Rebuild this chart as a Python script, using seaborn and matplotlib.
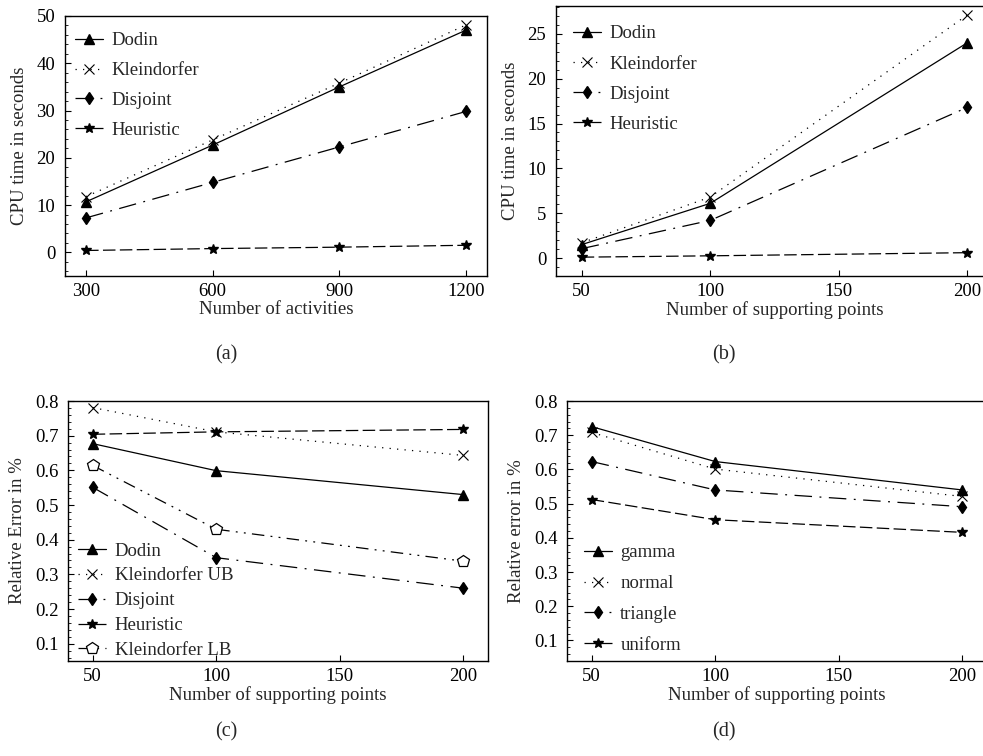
import matplotlib
matplotlib.use("Agg")
import matplotlib.pyplot as plt
import seaborn as sns
import numpy as np
from matplotlib.ticker import MultipleLocator

# ---------------- data ----------------
act_x = [300, 600, 900, 1200]
a_dodin = [10.7, 22.7, 35.0, 47.0]
a_klein = [11.8, 23.8, 35.8, 48.1]
a_disj = [7.3, 14.8, 22.3, 29.8]
a_heur = [0.4, 0.8, 1.1, 1.5]

sp_x = [50, 100, 200]
b_dodin = [1.5, 6.1, 24.0]
b_klein = [1.7, 6.8, 27.1]
b_disj = [1.05, 4.2, 16.8]
b_heur = [0.1, 0.25, 0.6]

c_dodin = [0.677, 0.599, 0.530]
c_klein_ub = [0.781, 0.711, 0.643]
c_disj = [0.551, 0.348, 0.260]
c_heur = [0.704, 0.711, 0.718]
c_klein_lb = [0.614, 0.430, 0.338]

d_gamma = [0.725, 0.623, 0.540]
d_normal = [0.708, 0.601, 0.521]
d_triangle = [0.623, 0.540, 0.491]
d_uniform = [0.512, 0.453, 0.416]

# ---------------- style ----------------
sns.set_style("ticks")
plt.rcParams["font.family"] = ["Liberation Serif", "DejaVu Serif"]
FS = 13.5
plt.rcParams.update({
    "font.size": FS,
    "xtick.direction": "in",
    "ytick.direction": "in",
    "xtick.major.size": 4,
    "ytick.major.size": 4,
    "ytick.minor.size": 2,
    "xtick.major.width": 0.8,
    "ytick.major.width": 0.8,
    "ytick.minor.width": 0.6,
    "axes.linewidth": 1.0,
    "axes.edgecolor": "black",
    "xtick.color": "black",
    "ytick.color": "black",
})

SOLID = "-"
DOTTED = (0, (1, 5))
DASHDOT = (0, (14, 6, 1.5, 6))
DASHED = (0, (10, 3.5))
DASHDOTDOT = (0, (10, 5, 1.5, 5, 1.5, 5))

LW = 0.9

def draw(ax, x, y, label, marker, ls, ms=7, mfc="black", mew=1.0):
    sns.lineplot(x=x, y=y, ax=ax, label=label, color="black", lw=LW,
                 linestyle=ls, marker=marker, markersize=ms,
                 markerfacecolor=mfc, markeredgecolor="black",
                 markeredgewidth=mew)

W, H = 983, 756
fig = plt.figure(figsize=(W / 100, H / 100), dpi=100)

def axes_px(left, top, right, bottom):
    return fig.add_axes([left / W, 1 - bottom / H, (right - left) / W, (bottom - top) / H])

axa = axes_px(65, 16, 487, 276)
axb = axes_px(556, 6, 993, 276)
axc = axes_px(68, 401, 488, 661)
axd = axes_px(567, 401, 987, 661)

# (a)
draw(axa, act_x, a_dodin, "Dodin", "^", SOLID, ms=7)
draw(axa, act_x, a_klein, "Kleindorfer", "x", DOTTED, ms=7, mew=0.8)
draw(axa, act_x, a_disj, "Disjoint", "d", DASHDOT, ms=6.5)
draw(axa, act_x, a_heur, "Heuristic", "*", DASHED, ms=7)
axa.set_xlim(250, 1250)
axa.set_ylim(-5, 50)
axa.set_xticks(act_x)
axa.set_yticks([0, 10, 20, 30, 40, 50])
axa.yaxis.set_minor_locator(MultipleLocator(2))
axa.set_xlabel("Number of activities")
axa.set_ylabel("CPU time in seconds")

# (b)
draw(axb, sp_x, b_dodin, "Dodin", "^", SOLID, ms=7)
draw(axb, sp_x, b_klein, "Kleindorfer", "x", DOTTED, ms=7, mew=0.8)
draw(axb, sp_x, b_disj, "Disjoint", "d", DASHDOT, ms=6.5)
draw(axb, sp_x, b_heur, "Heuristic", "*", DASHED, ms=7)
axb.set_xlim(40, 210)
axb.set_ylim(-2, 28.1)
axb.set_xticks([50, 100, 150, 200])
axb.set_yticks([0, 5, 10, 15, 20, 25])
axb.yaxis.set_minor_locator(MultipleLocator(1))
axb.set_xlabel("Number of supporting points")
axb.set_ylabel("CPU time in seconds")

# (c)
draw(axc, sp_x, c_dodin, "Dodin", "^", SOLID, ms=7)
draw(axc, sp_x, c_klein_ub, "Kleindorfer UB", "x", DOTTED, ms=7, mew=0.8)
draw(axc, sp_x, c_disj, "Disjoint", "d", DASHDOT, ms=6.5)
draw(axc, sp_x, c_heur, "Heuristic", "*", DASHED, ms=7)
draw(axc, sp_x, c_klein_lb, "Kleindorfer LB", "p", DASHDOTDOT, ms=9, mfc="white", mew=0.9)
axc.set_xlim(40, 210)
axc.set_ylim(0.05, 0.8)
axc.set_xticks([50, 100, 150, 200])
axc.set_yticks([0.1, 0.2, 0.3, 0.4, 0.5, 0.6, 0.7, 0.8])
axc.yaxis.set_minor_locator(MultipleLocator(0.02))
axc.set_xlabel("Number of supporting points")
axc.set_ylabel("Relative Error in %")

# (d)
draw(axd, sp_x, d_gamma, "gamma", "^", SOLID, ms=7)
draw(axd, sp_x, d_normal, "normal", "x", DOTTED, ms=7, mew=0.8)
draw(axd, sp_x, d_triangle, "triangle", "d", DASHDOT, ms=6.5)
draw(axd, sp_x, d_uniform, "uniform", "*", DASHED, ms=7)
axd.set_xlim(40, 210)
axd.set_ylim(0.04, 0.8)
axd.set_xticks([50, 100, 150, 200])
axd.set_yticks([0.1, 0.2, 0.3, 0.4, 0.5, 0.6, 0.7, 0.8])
axd.yaxis.set_minor_locator(MultipleLocator(0.02))
axd.set_xlabel("Number of supporting points")
axd.set_ylabel("Relative error in %")

for ax in (axa, axb, axc, axd):
    for s in ax.spines.values():
        s.set_visible(True)
    ax.tick_params(axis="y", which="both", pad=7, labelsize=FS)
    ax.tick_params(axis="x", which="both", pad=5, labelsize=FS)
    ax.xaxis.labelpad = 1
    ax.yaxis.labelpad = 6

leg_kw = dict(frameon=False, fontsize=FS, handlelength=1.5, handletextpad=0.45,
              borderpad=0, borderaxespad=0)
axa.legend(loc="upper left", bbox_to_anchor=(0.024, 0.938), labelspacing=0.68, **leg_kw)
axb.legend(loc="upper left", bbox_to_anchor=(0.039, 0.929), labelspacing=0.7, **leg_kw)
axc.legend(loc="lower left", bbox_to_anchor=(0.024, 0.008), labelspacing=0.41, **leg_kw)
axd.legend(loc="lower left", bbox_to_anchor=(0.04, 0.028), labelspacing=0.73, **leg_kw)

# captions
for txt, x, y in (("(a)", 226, 355), ("(b)", 724, 355), ("(c)", 226, 732), ("(d)", 724, 732)):
    fig.text(x / W, 1 - y / H, txt, ha="center", va="center", fontsize=FS + 1)

fig.savefig("out.png", dpi=100)
